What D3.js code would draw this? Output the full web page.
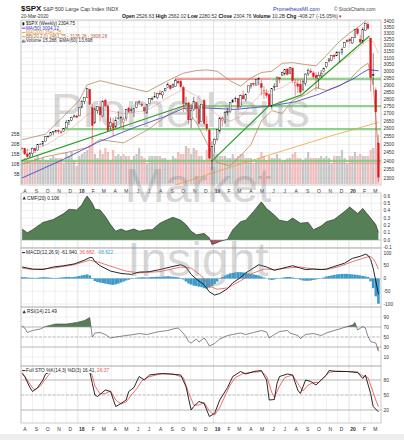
<!DOCTYPE html>
<html>
<head>
<meta charset="utf-8">
<script src="https://cdn.jsdelivr.net/npm/d3@7"></script>
<style>
  body { margin: 0; background: #fff; }
  svg { display: block; }
  text { font-family: "Liberation Sans", Arial, sans-serif; }
</style>
</head>
<body>
<div class="container"></div>
<script>
// $SPX weekly candles, 4 Aug 2017 .. 20 Mar 2020 (one entry per Friday)
const opens = [2477,2476,2441,2426,2444,2474,2464,2502,2503,2521,2548,2555,2578,2583,2588,2580,2583,2605,2640,2653,2677,2684,
  2684,2743,2784,2809,2867,2741,2637,2722,2745,2682,2790,2752,2612,2633,2611,2670,2675,2643,2670,2738,2725,2706,2742,2780,2765,2742,2704,2769,2798,2810,2812,2842,2828,2857,2880,2897,2880,2888,2925,2926,2882,2763,2773,2658,2726,2774,2730,2649,2790,2630,2590,2400,
  2498,2531,2585,2657,2644,2713,2713,2779,2805,2804,2747,2823,2796,2848,2892,2909,2898,2940,2908,2841,2841,2830,2752,2886,2886,2952,2972,2980,3017,2985,3024,2898,2907,2905,2867,2910,2980,3002,2987,2967,2944,2965,2996,3035,3078,3081,3123,3117,3143,3141,3183,3227,
  3248,3218,3264,3334,3247,3235,3318,3370,3258,2974,2863,2509];
const highs = [2480,2480,2474,2454,2480,2475,2500,2508,2520,2552,2555,2575,2582,2592,2597,2590,2604,2657,2652,2679,2695,2692,
  2744,2787,2811,2873,2871,2763,2754,2748,2789,2787,2802,2762,2674,2672,2680,2717,2683,2676,2732,2742,2742,2736,2779,2791,2774,2744,2763,2801,2816,2848,2841,2863,2855,2877,2916,2897,2909,2941,2940,2940,2895,2816,2779,2767,2815,2775,2747,2760,2800,2685,2601,2520,
  2539,2598,2675,2681,2716,2738,2776,2799,2816,2804,2831,2860,2836,2893,2911,2917,2940,2954,2936,2892,2872,2841,2876,2911,2964,2955,2996,3014,3018,3028,3028,2943,2943,2939,2940,2985,3021,3022,3001,2993,2993,3009,3027,3068,3098,3120,3127,3154,3150,3182,3226,3248,
  3259,3267,3330,3338,3285,3347,3385,3393,3260,3137,2882,2562];
const lows = [2466,2437,2417,2418,2428,2446,2464,2496,2488,2520,2542,2550,2557,2573,2567,2566,2582,2605,2624,2648,2676,2673,
  2683,2735,2764,2808,2759,2533,2634,2699,2647,2675,2741,2586,2594,2553,2605,2660,2612,2594,2653,2701,2707,2676,2736,2760,2745,2698,2698,2769,2789,2809,2799,2827,2802,2853,2876,2864,2879,2886,2904,2874,2710,2755,2628,2604,2717,2670,2632,2649,2621,2583,2409,2346,
  2444,2524,2570,2612,2631,2687,2703,2771,2776,2729,2741,2800,2782,2848,2873,2891,2897,2898,2825,2800,2805,2750,2728,2858,2883,2912,2964,2967,2968,2978,2914,2823,2840,2834,2853,2892,2964,2985,2946,2856,2874,2953,2991,3023,3065,3075,3091,3115,3070,3124,3183,3226,
  3212,3213,3261,3280,3214,3214,3316,3328,2855,2902,2479,2280];
const closes = [2476,2441,2426,2444,2477,2461,2500,2502,2519,2549,2553,2575,2581,2588,2582,2579,2602,2642,2652,2675,2684,2674,
  2743,2786,2810,2873,2762,2620,2732,2747,2691,2786,2752,2588,2641,2604,2656,2670,2670,2663,2728,2713,2721,2735,2779,2780,2755,2718,2760,2801,2802,2819,2840,2833,2850,2875,2902,2872,2905,2930,2914,2886,2767,2768,2658,2723,2781,2736,2633,2760,2633,2600,2417,2486,
  2532,2596,2671,2665,2707,2708,2776,2793,2804,2743,2822,2800,2834,2893,2907,2905,2940,2946,2881,2860,2826,2752,2873,2887,2950,2942,2990,3014,2977,3026,2932,2919,2889,2847,2926,2979,3007,2992,2962,2952,2970,2986,3023,3067,3093,3120,3110,3141,3146,3169,3221,3240,
  3235,3265,3330,3295,3226,3328,3380,3338,2954,2972,2711,2305];
// weekly volume, billions
const volumes = [12,13,12,11,11,13,14,12,13,12,12,13,14,13,13,13,10,16,14,16,12,9,
  14,15,16,17,19,23,15,13,17,15,18,16,12,17,14,15,14,15,14,14,12,14,15,18,14,13,10,14,14,14,14,14,13,13,12,11,14,13,16,15,15,19,18,15,18,17,14,14,12,17,18,12,
  15,15,14,14,14,13,13,15,13,14,15,15,13,13,13,10,12,13,16,14,12,14,13,13,15,13,11,12,13,13,15,16,13,13,12,13,16,13,13,13,13,14,13,14,13,10,14,14,14,17,13,10,
  14,14,16,14,15,14,14,14,17,18,18,15.3];

// overlays: [week index, value]
const ma50Pts = [[0,2300],[8,2354],[16,2410],[29,2513],[42,2600],[55,2680],[62,2735],[70,2738],[82,2728],[95,2750],[105,2780],[114,2832],[123,2904],[127,2940],[131,2990],[133,3012],[137,3004]];
const ma200Pts = [[40,2170],[60,2265],[80,2362],[100,2460],[120,2560],[137,2641]];
const bbUpperPts = [[0,2530],[9,2565],[17,2700],[22,2790],[25,2900],[30,2930],[39,2890],[48,2850],[56,2930],[62,2985],[67,3005],[71,3010],[75,3000],[80,2930],[84,2890],[88,2950],[92,2990],[96,3000],[100,3060],[104,3065],[109,3050],[113,3040],[117,3120],[122,3230],[126,3300],[130,3360],[133,3420],[135,3560],[137,3808]];
const bbMidPts = [[0,2455],[9,2495],[17,2575],[25,2690],[30,2730],[39,2700],[48,2720],[56,2810],[62,2870],[67,2820],[71,2760],[75,2690],[80,2650],[84,2680],[88,2760],[92,2840],[96,2860],[100,2880],[104,2930],[109,2940],[113,2960],[117,2990],[122,3060],[126,3120],[130,3190],[133,3240],[135,3230],[137,3135]];
const bbLowerPts = [[0,2380],[9,2425],[17,2450],[25,2480],[30,2530],[39,2510],[48,2590],[56,2690],[62,2750],[67,2640],[71,2510],[75,2390],[80,2370],[84,2430],[88,2500],[92,2650],[96,2720],[100,2700],[104,2790],[109,2830],[113,2880],[117,2860],[122,2890],[126,2940],[130,3020],[133,3060],[135,2900],[137,2462]];

// trend lines and horizontal levels drawn on the chart
const trendLines = [
  [["2017-08-01", 2400], ["2018-10-16", 2755]],
  [["2018-12-28", 2400], ["2019-05-27", 2744], ["2019-08-26", 2828], ["2020-02-25", 3275]]
];
const levelPrices = [2943, 2943, 2750, 2597, 2400, 2385];
const levelFrom = ["2018-09-19", "2019-06-06", "2018-10-11", "2017-11-19", "2017-08-01", "2017-08-01"];
const levelTo = ["2019-06-06", "2020-03-27", "2020-03-27", "2020-03-27", "2020-03-27", "2020-03-27"];
const levelKind = ["resistance", "support", "support", "support", "support", "resistance"];

// indicators
const cmfPts = [[0,.15],[2,.10],[4,.14],[8,.24],[12,.28],[16,.36],[18,.42],[21,.41],[23,.48],[24,.55],[25,.60],[27,.50],[28,.42],[30,.41],[32,.32],[34,.21],[36,.12],[38,.15],[40,.12],[43,.15],[45,.12],[48,.14],[50,.14],[53,.23],[56,.28],[58,.31],[61,.27],[63,.21],[65,.12],[67,.07],[70,.09],[72,.03],[73,-.06],[74,-.05],[76,-.02],[79,.01],[81,.14],[84,.25],[86,.27],[89,.39],[92,.52],[94,.43],[97,.34],[99,.27],[102,.25],[104,.30],[107,.23],[110,.24],[112,.14],[115,.19],[117,.25],[120,.28],[124,.39],[126,.45],[129,.36],[131,.43],[134,.30],[136,.21],[137,.106]];
const macdPts = [[0,45],[4,37],[8,35],[12,45],[16,50],[20,57],[24,72],[26,82],[27,82],[28,66],[30,50],[34,29],[38,20],[42,16],[45,25],[49,27],[53,35],[57,45],[61,54],[63,45],[65,16],[67,-2],[70,-25],[72,-52],[74,-65],[76,-59],[79,-40],[81,-17],[84,4],[86,22],[89,41],[91,54],[94,45],[97,32],[99,37],[102,45],[104,50],[107,41],[109,35],[112,37],[115,35],[117,37],[120,47],[124,60],[127,79],[130,87],[132,95],[133,91],[134,75],[135,40],[136,-10],[137,-61.94]];
const signalPts = [[0,41],[4,35],[12,41],[20,54],[26,72],[30,62],[35,45],[40,29],[45,22],[53,27],[61,45],[65,41],[69,10],[72,-30],[75,-42],[79,-37],[84,-9],[89,22],[93,37],[97,35],[102,41],[107,45],[112,37],[117,35],[122,47],[127,66],[131,79],[133,85],[134,86],[135,78],[136,60],[137,36.88]];
const histValues = [6,5,4,3,3,2,3,4,5,5, 4,3,2,2,3,4,5,6,6,5, 6,8,10,12,14,16,12,-2,-10,-14,
  -16,-18,-20,-22,-24,-25,-23,-20,-16,-12, -8,-5,-2,1,3,4,5,5,4,5, 6,6,7,7,8,8,9,8,7,6,
  5,2,-4,-12,-20,-24,-28,-30,-32,-34, -38,-40,-36,-30,-22,-12,-2,6,12,16, 20,22,24,25,25,24,22,20,18,16,
  14,12,8,4,0,-4,-6,-4,-2,1, 3,5,6,6,4,2,-2,-5,-8,-9, -9,-8,-6,-4,-2,1,4,8,10,12,
  14,16,17,18,18,18,17,16,15,14, 12,10,8,6,-11,-38,-70,-99];
const rsiPts = [[0,72],[1,68],[2,59],[4,63],[7,66],[9,71],[13,76],[17,76],[21,79],[24,83],[26,89],[27,50],[28,58],[30,59],[32,55],[34,48],[36,50],[40,53],[43,55],[45,57],[48,55],[51,59],[53,61],[56,63],[58,66],[60,68],[61,63],[63,51],[64,41],[65,38],[67,46],[68,40],[70,48],[71,41],[72,32],[74,37],[76,46],[79,53],[81,55],[84,58],[86,55],[89,59],[92,63],[94,60],[95,48],[97,55],[99,61],[102,63],[103,58],[106,53],[107,47],[109,55],[112,57],[115,53],[117,58],[120,63],[122,66],[125,71],[127,74],[128,79],[129,64],[131,71],[132,68],[133,51],[134,41],[136,38],[137,21.49]];
const stoKPts = [[0,93],[1,87],[3,65],[4,57],[6,65],[8,80],[9,92],[12,99],[20,100],[26,97],[27,73],[28,50],[29,47],[32,60],[34,57],[36,27],[38,33],[40,40],[41,57],[43,65],[45,87],[47,80],[49,90],[52,92],[54,93],[57,92],[61,90],[63,67],[65,20],[66,27],[68,37],[70,33],[72,7],[74,13],[76,40],[79,65],[81,87],[84,97],[86,92],[89,97],[92,99],[94,80],[95,40],[97,41],[98,73],[99,87],[102,92],[104,90],[106,60],[107,53],[109,80],[111,77],[113,70],[115,80],[117,90],[118,99],[121,97],[125,97],[129,95],[131,83],[132,90],[134,53],[135,27],[137,16.41]];
const stoDPts = [[0,95],[2,80],[4,64],[5,60],[7,68],[9,82],[11,95],[14,99],[26,98],[27,88],[28,68],[30,52],[32,53],[34,58],[36,40],[38,32],[40,36],[42,50],[44,62],[46,78],[48,85],[50,88],[53,92],[58,92],[62,85],[64,55],[66,30],[68,30],[70,35],[72,18],[74,10],[76,25],[78,48],[80,70],[82,85],[85,93],[88,95],[92,97],[94,88],[96,55],[97,45],[99,68],[101,85],[104,90],[106,73],[108,58],[110,70],[112,75],[114,75],[116,85],[118,95],[121,98],[125,97],[129,96],[131,88],[133,85],[134,70],[136,40],[137,26.37]];

// axis labels
const monthLabels = ["A","S","O","N","D","18","F","M","A","M","J","J","A","S","O","N","D","19","F","M","A","M","J","J","A","S","O","N","D","20","F","M"];
const priceTicks = [3400,3350,3300,3250,3200,3150,3100,3050,3000,2950,2900,2850,2800,2750,2700,2650,2600,2550,2500,2450,2400,2350,2300];
const volTicks = [25, 20, 15, 10, 5];
const cmfTicks = [0.6, 0.5, 0.4, 0.3, 0.2, 0.1, 0.0, -0.1];
const macdTicks = [100, 50, 0, -50, -100];
const rsiTicks = [90, 70, 50, 30, 10];
const stoTicks = [80, 50, 20];

const W = 404, H = 440;
const left = 21, right = 381;
const parse = d3.timeParse("%Y-%m-%d");

const svg = d3.select(".container").append("svg")
  .attr("width", W).attr("height", H);
svg.append("rect").attr("width", W).attr("height", H).attr("fill", "#fff");
svg.append("rect").attr("y", 434).attr("width", W).attr("height", 6).attr("fill", "#ededed");

const x = d3.scaleTime().domain([new Date(2017, 7, 1), new Date(2020, 2, 27)]).range([left, right]);
const weeks = d3.timeFriday.range(new Date(2017, 7, 4), new Date(2020, 2, 21));
const months = d3.timeMonth.range(new Date(2017, 7, 1), new Date(2020, 3, 1));
const wx = d => x(weeks[d[0]]);

const panels = {
  main: { top: 20, bottom: 185 },
  cmf: { top: 193, bottom: 248 },
  macd: { top: 248, bottom: 307 },
  rsi: { top: 307, bottom: 366 },
  sto: { top: 366, bottom: 423 }
};

const y = d3.scaleLog().domain([2260, 3408]).range([185, 20]);
const yVol = d3.scaleLinear().domain([0, 25]).range([184, 134]);
const yCmf = d3.scaleLinear().domain([-0.109, 0.641]).range([248, 193]);
const yMacd = d3.scaleLinear().domain([-111.8, 119.6]).range([307, 248]);
const yRsi = d3.scaleLinear().domain([-8, 110]).range([366, 307]);
const ySto = d3.scaleLinear().domain([-6, 108]).range([423, 366]);

const defs = svg.append("defs");
Object.entries(panels).forEach(([k, p]) => {
  defs.append("clipPath").attr("id", "clip-" + k)
    .append("rect").attr("x", left).attr("y", p.top).attr("width", right - left).attr("height", p.bottom - p.top);
});

// grid
Object.entries(panels).forEach(([k, p]) => {
  svg.append("g").selectAll("line").data(months).enter().append("line")
    .attr("x1", d => x(d)).attr("x2", d => x(d))
    .attr("y1", p.top).attr("y2", p.bottom)
    .attr("stroke", d => d.getMonth() === 0 ? "#cfcfcf" : "#e6e6e6")
    .attr("stroke-width", 0.6);
});
function hgrid(ticks, scale) {
  svg.append("g").selectAll("line").data(ticks).enter().append("line")
    .attr("x1", left).attr("x2", right)
    .attr("y1", d => scale(d)).attr("y2", d => scale(d))
    .attr("stroke", "#e6e6e6").attr("stroke-width", 0.6);
}
hgrid(priceTicks, y);
hgrid(cmfTicks, yCmf);
hgrid(macdTicks, yMacd);
hgrid(rsiTicks, yRsi);
hgrid(stoTicks, ySto);

// right axis labels
function rightLabels(ticks, scale, fmt) {
  svg.append("g").selectAll("text").data(ticks).enter().append("text")
    .attr("x", right + 2.5).attr("y", d => scale(d)).attr("dy", "0.35em")
    .attr("font-size", 4.8).attr("fill", "#333")
    .text(fmt);
}
rightLabels(priceTicks, y, d => d);
rightLabels(cmfTicks, yCmf, d => d.toFixed(1));
rightLabels(macdTicks, yMacd, d => d);
rightLabels(rsiTicks, yRsi, d => d);
rightLabels(stoTicks, ySto, d => d);

svg.append("g").selectAll("text").data(volTicks).enter().append("text")
  .attr("x", left - 1.5).attr("y", d => yVol(d)).attr("dy", "0.35em")
  .attr("text-anchor", "end").attr("font-size", 4.6).attr("fill", "#333")
  .text(d => d + "B");

// month labels
[190.8, 429.5].forEach(ly => {
  svg.append("g").selectAll("text").data(months).enter().append("text")
    .attr("x", d => x(d) + 4).attr("y", ly).attr("dy", "0.35em")
    .attr("text-anchor", "middle").attr("font-size", 5)
    .attr("font-weight", (d, i) => monthLabels[i].length > 1 ? "bold" : "normal")
    .attr("fill", "#333")
    .text((d, i) => monthLabels[i]);
});

// ---- main panel ----
const main = svg.append("g").attr("clip-path", "url(#clip-main)");

// volume behind prices
main.selectAll(".vol").data(volumes).enter().append("rect")
  .attr("x", (d, i) => x(weeks[i]) - 1.1)
  .attr("width", 2.2)
  .attr("y", d => yVol(d))
  .attr("height", d => yVol(0) - yVol(d))
  .attr("fill", (d, i) => i > 0 && closes[i] < closes[i - 1] ? "#f2a5a5" : "#b4b4b4")
  .attr("opacity", 0.75);

// levels
levelPrices.forEach((p, i) => {
  const sup = levelKind[i] === "support";
  main.append("line")
    .attr("x1", x(parse(levelFrom[i]))).attr("x2", x(parse(levelTo[i])))
    .attr("y1", y(p)).attr("y2", y(p))
    .attr("stroke", sup ? "#7ccc7c" : "#f08a8a")
    .attr("stroke-width", sup ? 2.4 : (i === 5 ? 0.9 : 2.2))
    .attr("opacity", 0.85);
});

const pline = d3.line().x(wx).y(d => y(d[1]));
[[bbUpperPts, "#b8865e", 0.8], [bbLowerPts, "#b8865e", 0.8], [bbMidPts, "#efb0a0", 0.7],
 [ma200Pts, "#e9a53c", 0.8], [ma50Pts, "#3434c8", 0.8]].forEach(([pts, c, w]) => {
  main.append("path").attr("d", pline(pts)).attr("fill", "none")
    .attr("stroke", c).attr("stroke-width", w);
});

const tline = d3.line().x(d => x(parse(d[0]))).y(d => y(d[1]));
trendLines.forEach(t => {
  main.append("path").attr("d", tline(t)).attr("fill", "none")
    .attr("stroke", "#26a126").attr("stroke-width", 1.2);
});

// candles
const candle = main.selectAll(".candle").data(closes).enter().append("g");
const colorOf = i => (i === 0 ? closes[i] >= opens[i] : closes[i] >= closes[i - 1]) ? "#000" : "#e3161b";
candle.append("line")
  .attr("x1", (d, i) => x(weeks[i])).attr("x2", (d, i) => x(weeks[i]))
  .attr("y1", (d, i) => y(highs[i])).attr("y2", (d, i) => y(lows[i]))
  .attr("stroke", (d, i) => colorOf(i)).attr("stroke-width", 0.5);
candle.append("rect")
  .attr("x", (d, i) => x(weeks[i]) - 0.85)
  .attr("width", 1.7)
  .attr("y", (d, i) => y(Math.max(opens[i], closes[i])))
  .attr("height", (d, i) => Math.max(0.5, Math.abs(y(opens[i]) - y(closes[i]))))
  .attr("fill", (d, i) => closes[i] < opens[i] ? colorOf(i) : "#fff")
  .attr("stroke", (d, i) => colorOf(i)).attr("stroke-width", 0.4);

// ---- CMF ----
const cmf = svg.append("g").attr("clip-path", "url(#clip-cmf)");
defs.append("clipPath").attr("id", "cmf-pos").append("rect")
  .attr("x", left).attr("y", 193).attr("width", right - left).attr("height", yCmf(0) - 193);
defs.append("clipPath").attr("id", "cmf-neg").append("rect")
  .attr("x", left).attr("y", yCmf(0)).attr("width", right - left).attr("height", 248 - yCmf(0));
const cmfArea = d3.area().x(wx).y0(yCmf(0)).y1(d => yCmf(d[1]));
cmf.append("path").attr("d", cmfArea(cmfPts)).attr("fill", "#557f55").attr("clip-path", "url(#cmf-pos)");
cmf.append("path").attr("d", cmfArea(cmfPts)).attr("fill", "#a35656").attr("clip-path", "url(#cmf-neg)");
cmf.append("path").attr("d", d3.line().x(wx).y(d => yCmf(d[1]))(cmfPts))
  .attr("fill", "none").attr("stroke", "#222").attr("stroke-width", 0.6);
cmf.append("line").attr("x1", left).attr("x2", right).attr("y1", yCmf(0)).attr("y2", yCmf(0))
  .attr("stroke", "#999").attr("stroke-width", 0.5);

// ---- MACD ----
const macd = svg.append("g").attr("clip-path", "url(#clip-macd)");
macd.append("line").attr("x1", left).attr("x2", right).attr("y1", yMacd(0)).attr("y2", yMacd(0))
  .attr("stroke", "#bbb").attr("stroke-width", 0.5);
macd.selectAll(".h").data(histValues).enter().append("rect")
  .attr("x", (d, i) => x(weeks[i]) - 1.3).attr("width", 2.6)
  .attr("y", d => yMacd(Math.max(0, d)))
  .attr("height", d => Math.abs(yMacd(d) - yMacd(0)))
  .attr("fill", "#3c9acb");
macd.append("path").attr("d", d3.line().x(wx).y(d => yMacd(d[1]))(signalPts))
  .attr("fill", "none").attr("stroke", "#f05050").attr("stroke-width", 0.8);
macd.append("path").attr("d", d3.line().x(wx).y(d => yMacd(d[1]))(macdPts))
  .attr("fill", "none").attr("stroke", "#111").attr("stroke-width", 0.9);

// ---- RSI ----
const rsi = svg.append("g").attr("clip-path", "url(#clip-rsi)");
defs.append("clipPath").attr("id", "rsi-hi").append("rect")
  .attr("x", left).attr("y", 307).attr("width", right - left).attr("height", yRsi(70) - 307);
defs.append("clipPath").attr("id", "rsi-lo").append("rect")
  .attr("x", left).attr("y", yRsi(30)).attr("width", right - left).attr("height", 366 - yRsi(30));
rsi.append("path").attr("d", d3.area().x(wx).y0(yRsi(70)).y1(d => yRsi(d[1]))(rsiPts))
  .attr("fill", "#557f55").attr("clip-path", "url(#rsi-hi)");
rsi.append("path").attr("d", d3.area().x(wx).y0(yRsi(30)).y1(d => yRsi(d[1]))(rsiPts))
  .attr("fill", "#c85050").attr("clip-path", "url(#rsi-lo)");
[70, 30].forEach(v => rsi.append("line").attr("x1", left).attr("x2", right)
  .attr("y1", yRsi(v)).attr("y2", yRsi(v)).attr("stroke", "#999").attr("stroke-width", 0.6));
rsi.append("line").attr("x1", left).attr("x2", right).attr("y1", yRsi(50)).attr("y2", yRsi(50))
  .attr("stroke", "#888").attr("stroke-width", 0.5).attr("stroke-dasharray", "3,1.5");
rsi.append("path").attr("d", d3.line().x(wx).y(d => yRsi(d[1]))(rsiPts))
  .attr("fill", "none").attr("stroke", "#555").attr("stroke-width", 0.7);

// ---- STO ----
const sto = svg.append("g").attr("clip-path", "url(#clip-sto)");
[80, 20].forEach(v => sto.append("line").attr("x1", left).attr("x2", right)
  .attr("y1", ySto(v)).attr("y2", ySto(v)).attr("stroke", "#999").attr("stroke-width", 0.6));
sto.append("line").attr("x1", left).attr("x2", right).attr("y1", ySto(50)).attr("y2", ySto(50))
  .attr("stroke", "#888").attr("stroke-width", 0.5).attr("stroke-dasharray", "3,1.5");
sto.append("path").attr("d", d3.line().x(wx).y(d => ySto(d[1]))(stoDPts))
  .attr("fill", "none").attr("stroke", "#f04848").attr("stroke-width", 0.8);
sto.append("path").attr("d", d3.line().x(wx).y(d => ySto(d[1]))(stoKPts))
  .attr("fill", "none").attr("stroke", "#111").attr("stroke-width", 0.9);

// panel frames
Object.values(panels).forEach(p => {
  svg.append("rect").attr("x", left).attr("y", p.top)
    .attr("width", right - left).attr("height", p.bottom - p.top)
    .attr("fill", "none").attr("stroke", "#a9a9a9").attr("stroke-width", 0.6);
});

// ---- legends ----
function legend(lx, ly, parts, size, bg) {
  const t = svg.append("text").attr("x", lx).attr("y", ly).attr("font-size", size);
  parts.forEach(p => t.append("tspan").attr("fill", p[1] || "#222")
    .attr("font-weight", p[2] || "normal").text(p[0]));
  if (bg) {
    const b = t.node().getBBox();
    svg.insert("rect", () => t.node()).attr("x", b.x - 0.5).attr("y", b.y)
      .attr("width", b.width + 1).attr("height", b.height).attr("fill", "#fff");
  }
  return t;
}
function swatch(lx, ly, c) {
  svg.append("line").attr("x1", lx).attr("x2", lx + 3.5).attr("y1", ly).attr("y2", ly)
    .attr("stroke", c).attr("stroke-width", 0.9);
}

// header
legend(21, 10.5, [["$SPX", "#111", "bold"]], 8);
legend(43, 10.5, [["S&P 500 Large Cap Index", "#333"], [" INDX", "#333"]], 5.3);
legend(21, 17.5, [["20-Mar-2020", "#333"]], 4.8);
legend(122, 17.5, [["Open ", "#111", "bold"], ["2526.63  ", "#333"], ["High ", "#111", "bold"], ["2562.02  ", "#333"],
  ["Low ", "#111", "bold"], ["2280.52  ", "#333"], ["Close ", "#111", "bold"], ["2304.76  ", "#333"],
  ["Volume ", "#111", "bold"], ["10.2B  ", "#333"], ["Chg ", "#111", "bold"], ["-408.27 (-15.05%) ", "#333"], ["\u25BE", "#e3161b"]], 5);
legend(273, 10.5, [["PrometheusMI.com", "#2a3aa8"]], 5.4);
legend(334, 10.5, [["\u00A9 StockCharts.com", "#444"]], 4.8);

// main panel legend
svg.append("rect").attr("x", 22.5).attr("y", 22.3).attr("width", 1.8).attr("height", 3).attr("fill", "#111");
legend(26, 25.2, [["$SPX (Weekly) 2304.75", "#222"]], 4.6);
swatch(22, 28.2, "#3434c8");
legend(26, 29.5, [["MA(50) 3004.12", "#3434c8"]], 4.6);
swatch(22, 32.5, "#e9a53c");
legend(26, 33.8, [["MA(200) 2641.25", "#e0962a"]], 4.6);
swatch(22, 36.8, "#b8865e");
legend(26, 38.1, [["BB(20,2.0) 2461.75 - 3135.28 - 3808.28", "#b06a48"]], 4.6);
[0, 1, 2].forEach(k => svg.append("rect").attr("x", 22.2 + k * 1.2).attr("y", 39.6 + (k === 1 ? 0 : 1))
  .attr("width", 0.8).attr("height", k === 1 ? 3 : 2).attr("fill", "#444"));
legend(26, 42.4, [["Volume 15,288, EMA(60) 13,698", "#333"]], 4.6);

// indicator legends
svg.append("path").attr("d", "M22.5,199.5 L24.2,196.3 L25.9,199.5 Z").attr("fill", "#333");
legend(27, 199.5, [["CMF(20) 0.106", "#222"]], 4.8);
swatch(22, 252.6, "#111");
legend(26, 254, [["MACD(12,26,9) -61.940, ", "#222"], ["36.882, ", "#f05050"], ["-98.822", "#3c9acb"]], 4.8, true);
svg.append("path").attr("d", "M22.5,313.3 L24.2,310.1 L25.9,313.3 Z").attr("fill", "#333");
legend(27, 313.3, [["RSI(14) 21.49", "#222"]], 4.8);
legend(26, 372, [["Full STO %K(14,3) %D(3) 16.41, ", "#222"], ["26.37", "#f04848"]], 4.8, true);
swatch(22, 370.6, "#111");

// watermark
const wm = svg.append("g").attr("font-family", "'DejaVu Sans', sans-serif")
  .attr("font-size", 48).attr("fill", "#8a8a8a").attr("opacity", 0.33)
  .style("pointer-events", "none");
wm.append("text").attr("x", 51).attr("y", 127).attr("font-family", "'DejaVu Sans', sans-serif").text("Prometheus");
wm.append("text").attr("x", 198).attr("y", 202).attr("text-anchor", "middle").attr("font-family", "'DejaVu Sans', sans-serif").text("Market");
wm.append("text").attr("x", 198).attr("y", 276).attr("text-anchor", "middle").attr("font-family", "'DejaVu Sans', sans-serif").text("Insight");
</script>
</body>
</html>
